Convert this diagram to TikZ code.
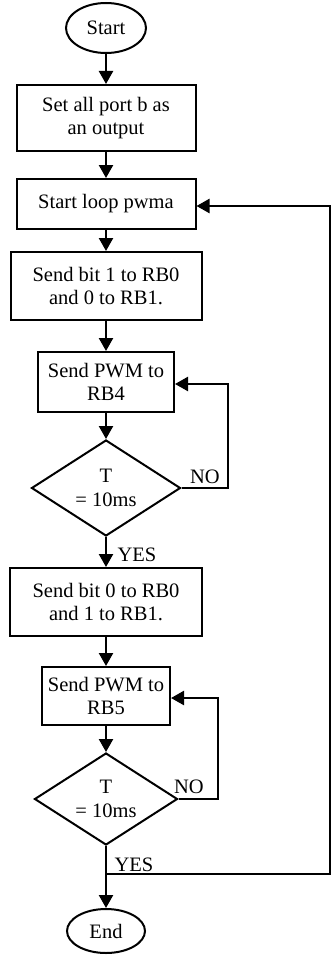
\documentclass[tikz,border=0pt]{standalone}
\usepackage{fontspec}
\setmainfont{Liberation Serif}
\usetikzlibrary{shapes.geometric,arrows.meta}
\begin{document}
\begin{tikzpicture}[x=1pt,y=-1pt,
 every node/.style={font=\fontsize{20.5}{23.5}\selectfont},
 box/.style={draw,line width=2pt,rectangle,inner sep=0pt,align=center},
 term/.style={draw,line width=2pt,ellipse,inner sep=0pt},
 dec/.style={draw,line width=2pt,diamond,aspect=1.55,inner sep=0pt,align=center},
 arr/.style={line width=2.4pt,-{Triangle[length=13pt,width=14pt]}},
 lbl/.style={inner sep=0pt}]
\useasboundingbox (0,0) rectangle (331,955);
\node[term,minimum width=80pt,minimum height=50pt] (start) at (106,28) {Start};
\node[box,minimum width=179pt,minimum height=66pt] (b1) at (106,118) {Set all port b as\\an output};
\node[box,minimum width=179pt,minimum height=50pt] (b2) at (106,204) {Start loop pwma};
\node[box,minimum width=191pt,minimum height=68pt] (b3) at (106,286) {Send bit 1 to RB0\\and 0 to RB1.};
\node[box,minimum width=136pt,minimum height=60pt] (b4) at (106,382) {Send PWM to\\RB4};
\node[dec,minimum width=149pt,minimum height=96pt] (d1) at (106,488) {T\\= 10ms};
\node[box,minimum width=192pt,minimum height=68pt] (b5) at (106,602) {Send bit 0 to RB0\\and 1 to RB1.};
\node[box,minimum width=128pt,minimum height=58pt] (b6) at (106,696) {Send PWM to\\RB5};
\node[dec,minimum width=143pt,minimum height=92pt] (d2) at (106,799) {T\\= 10ms};
\node[term,minimum width=78pt,minimum height=44pt] (end) at (106,931) {End};

\coordinate (j) at (106,874);
\coordinate (r1) at (330,874);
\coordinate (r2) at (330,206);

\draw[arr] (start) -- (b1);
\draw[arr] (b1) -- (b2);
\draw[arr] (b2) -- (b3);
\draw[arr] (b3) -- (b4);
\draw[arr] (b4) -- (d1);
\draw[arr] (d1) -- (b5);
\draw[arr] (b5) -- (b6);
\draw[arr] (b6) -- (d2);
\draw[arr] (d2) -- (end);

\draw[arr] (d1.east) -- (228,488) -- (228,384) -- (b4.east |- 0,384);
\draw[arr] (d2.east) -- (218,799) -- (218,698) -- (b6.east |- 0,698);
\draw[arr] (j) -- (r1) -- (r2) -- (b2.east |- r2);

\node[lbl] (no1) at (205,477) {NO};
\node[lbl] (no2) at (189,787) {NO};
\node[lbl] (yes1) at (137,555) {YES};
\node[lbl] (yes2) at (134,865) {YES};
\end{tikzpicture}
\end{document}
